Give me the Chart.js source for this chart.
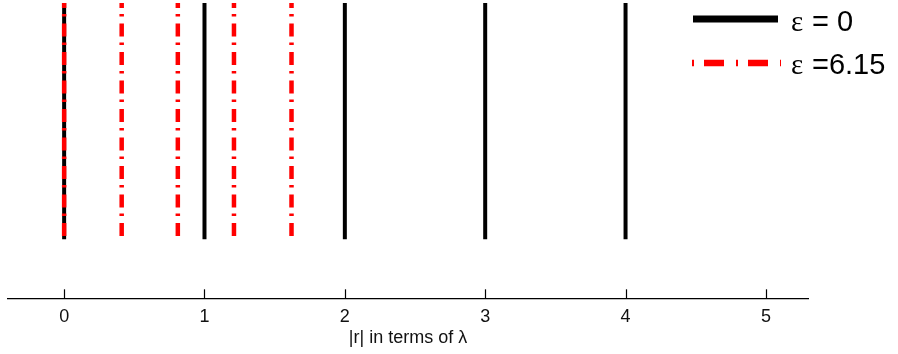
<!DOCTYPE html>
<html>
<head>
<meta charset="utf-8">
<script src="https://cdn.jsdelivr.net/npm/chart.js@4"></script>
<style>
  html, body { margin: 0; padding: 0; background: #fff; }
  #wrap { width: 898px; height: 354px; }
</style>
</head>
<body>
<div id="wrap"><canvas id="chart" width="898" height="354"></canvas></div>
<script>
// positions of the lines, in units of lambda
const blackPositions = [0, 1, 2, 3, 4];
const redPositions = [0, 0.41, 0.81, 1.21, 1.62];
const xTicks = [0, 1, 2, 3, 4, 5];
const legendLabels = ['ε = 0', 'ε =6.15'];
const axisTitle = '|r| in terms of λ';

const sans = '"Liberation Sans", Arial, sans-serif';

const datasets = [];
redPositions.forEach(p => {
  datasets.push({
    data: [{ x: p, y: 1 }, { x: p, y: 0 }],
    borderColor: '#ff0000',
    borderWidth: 4.5,
    borderDash: [13, 6, 2.5, 7],
    borderDashOffset: 8,
    borderCapStyle: 'butt',
    pointRadius: 0,
    order: 0
  });
});
blackPositions.forEach(p => {
  datasets.push({
    data: [{ x: p, y: 1 }, { x: p, y: 0 }],
    borderColor: '#000000',
    borderWidth: 4,
    borderCapStyle: 'butt',
    pointRadius: 0,
    order: 1
  });
});

// inward tick marks on the x axis
const tickMarks = {
  id: 'tickMarks',
  afterDraw(chart) {
    const ctx = chart.ctx;
    const sx = chart.scales.x;
    const y0 = chart.chartArea.bottom;
    ctx.save();
    ctx.strokeStyle = '#000';
    ctx.lineWidth = 1.2;
    xTicks.forEach(v => {
      const px = Math.round(sx.getPixelForValue(v)) + 0.5;
      ctx.beginPath();
      ctx.moveTo(px, y0);
      ctx.lineTo(px, y0 - 9);
      ctx.stroke();
    });
    ctx.restore();
  }
};

// legend drawn in the top right corner
const legendBox = {
  id: 'legendBox',
  afterDraw(chart) {
    const ctx = chart.ctx;
    ctx.save();
    ctx.lineCap = 'butt';
    // black sample
    ctx.strokeStyle = '#000';
    ctx.lineWidth = 7;
    ctx.beginPath();
    ctx.moveTo(693, 19);
    ctx.lineTo(778, 19);
    ctx.stroke();
    // red sample
    ctx.strokeStyle = '#ff0000';
    ctx.lineWidth = 6.5;
    ctx.setLineDash([2, 10, 20, 12]);
    ctx.beginPath();
    ctx.moveTo(692, 63);
    ctx.lineTo(781, 63);
    ctx.stroke();
    ctx.setLineDash([]);
    ctx.fillStyle = '#000';
    ctx.textBaseline = 'alphabetic';
    const baselines = [31, 74];
    legendLabels.forEach((label, i) => {
      ctx.font = '29px "Liberation Serif", "DejaVu Serif", serif';
      ctx.fillText(label.charAt(0), 791, baselines[i]);
      ctx.font = '29px ' + sans;
      ctx.fillText(label.slice(1).trim(), 812, baselines[i]);
    });
    ctx.restore();
  }
};

new Chart(document.getElementById('chart'), {
  type: 'line',
  data: { datasets },
  options: {
    responsive: false,
    animation: false,
    layout: { padding: { left: 8, right: 90, top: 3, bottom: 0 } },
    plugins: {
      legend: { display: false },
      tooltip: { enabled: false }
    },
    scales: {
      x: {
        type: 'linear',
        min: -0.4,
        max: 5.3,
        afterBuildTicks: scale => {
          scale.ticks = xTicks.map(v => ({ value: v }));
        },
        grid: { display: false, drawTicks: false, tickLength: 0 },
        border: { display: true, color: '#000', width: 1.2 },
        ticks: {
          color: '#111',
          padding: 8,
          font: { family: sans, size: 18 },
          maxRotation: 0
        },
        title: {
          display: true,
          text: axisTitle,
          color: '#111',
          padding: { top: -8.5, bottom: 5 },
          font: { family: sans, size: 18 }
        }
      },
      y: {
        display: false,
        min: -0.25,
        max: 1
      }
    }
  },
  plugins: [tickMarks, legendBox]
});
</script>
</body>
</html>
